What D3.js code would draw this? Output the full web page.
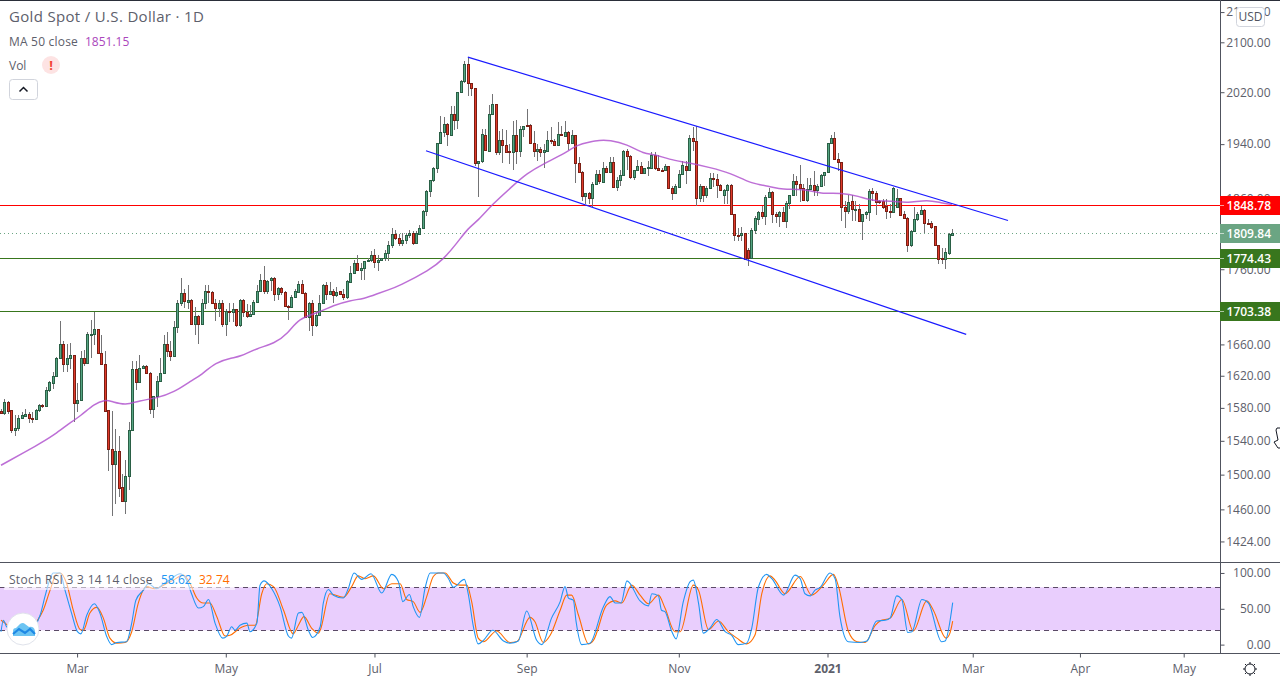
<!DOCTYPE html>
<html>
<head>
<meta charset="utf-8">
<script src="https://cdn.jsdelivr.net/npm/d3@7"></script>
<style>
  html, body { margin: 0; padding: 0; background: #fff; overflow: hidden; }
  svg { display: block; font-family: "Open Sans", sans-serif; }
</style>
</head>
<body>
<div id="chart"></div>
<script>
// daily candles
var opens = [1576,1574,1587,1577,1553,1556,1567,1570,1573,1568,1566,1577,1584,1582,1602,1611,1620,1643,1660,1635,1642,1646,1586,1590,1642,1636,1672,1674,1680,1649,1635,1577,1530,1513,1528,1486,1470,1498,1553,1629,1612,1630,1632,1623,1578,1595,1613,1623,1661,1651,1645,1683,
  1715,1728,1716,1719,1687,1697,1687,1714,1731,1729,1715,1708,1714,1687,1704,1702,1707,1685,1719,1702,1697,1700,1716,1731,1746,1731,1745,1748,1726,1734,1729,1711,1709,1723,1729,1740,1728,1696,1715,1685,1698,1715,1739,1727,1731,1725,1730,1726,1722,1743,1755,1768,1759,1762,1771,1773,1780,1770,1773,1775,1783,1794,1809,1803,
  1797,1801,1808,1810,1796,1809,1818,1841,1870,1886,1905,1941,1958,1971,1954,1986,1977,2020,2037,2065,2034,2026,1911,1914,1954,1930,1986,2002,1928,1946,1939,1929,1928,1954,1929,1963,1969,1969,1941,1929,1933,1928,1930,1946,1945,1939,1955,1953,1958,1942,1954,1911,1899,1863,1868,1861,1881,1896,
  1883,1905,1899,1913,1877,1887,1894,1930,1922,1891,1901,1908,1897,1904,1905,1924,1904,1902,1901,1907,1875,1867,1877,1896,1908,1902,1950,1944,1861,1878,1864,1875,1890,1888,1879,1865,1872,1879,1837,1808,1807,1811,1786,1776,1815,1830,1840,1835,1862,
  1869,1838,1835,1840,1827,1853,1864,1885,1880,1875,1858,1873,1879,1872,1878,1894,1898,1941,1949,1917,1913,1848,1842,1856,1844,1845,1828,1837,1840,1871,1868,1856,1856,1849,1842,1840,1847,1860,1837,1832,1793,1813,1830,1838,1843,1825,1825,1820,1794,1775,1774,1783,1808];
var highs = [1579,1591,1588,1577,1571,1571,1575,1579,1575,1575,1579,1585,1585,1606,1614,1625,1644,1690,1665,1661,1662,1646,1611,1651,1653,1676,1692,1702,1680,1672,1651,1577,1576,1554,1546,1501,1517,1563,1639,1639,1646,1633,1633,1625,1595,1620,1642,1672,1676,1665,1691,1718,
  1748,1733,1739,1720,1709,1698,1720,1738,1738,1731,1720,1718,1718,1706,1715,1714,1707,1720,1720,1713,1712,1718,1738,1753,1764,1746,1749,1749,1736,1736,1730,1712,1725,1733,1744,1745,1729,1716,1718,1704,1725,1740,1742,1743,1733,1736,1731,1733,1745,1764,1773,1779,1769,1772,1775,1785,1788,1780,1776,1787,1799,1818,1814,1809,
  1811,1811,1814,1813,1813,1821,1843,1872,1887,1906,1942,1983,1981,1972,1999,1999,2021,2040,2070,2076,2035,2027,1915,1963,1963,2000,2017,2002,1960,1963,1961,1940,1976,1977,1968,1968,1994,1970,1960,1940,1935,1940,1960,1966,1948,1974,1968,1975,1960,1961,1954,1920,1900,1868,1869,1883,1901,1902,
  1913,1908,1920,1920,1891,1901,1931,1933,1923,1902,1916,1913,1905,1915,1928,1928,1923,1905,1910,1907,1878,1880,1902,1915,1915,1954,1966,1968,1880,1878,1878,1897,1897,1895,1880,1873,1880,1880,1838,1818,1819,1811,1790,1817,1834,1842,1849,1864,1875,
  1870,1840,1841,1847,1856,1865,1895,1892,1909,1880,1890,1890,1900,1880,1895,1899,1942,1954,1958,1926,1913,1856,1864,1864,1856,1851,1837,1842,1873,1875,1870,1857,1859,1859,1851,1876,1873,1860,1842,1833,1815,1848,1840,1849,1844,1830,1828,1820,1794,1789,1789,1811,1816];
var lows = [1572,1571,1573,1549,1546,1552,1566,1569,1562,1561,1565,1575,1580,1581,1600,1604,1618,1643,1625,1625,1629,1563,1575,1589,1632,1635,1642,1659,1648,1633,1576,1504,1452,1466,1474,1470,1455,1482,1552,1602,1611,1629,1622,1573,1568,1581,1612,1622,1644,1639,1645,1675,
  1710,1708,1707,1686,1672,1660,1686,1707,1714,1714,1691,1696,1683,1671,1689,1689,1683,1683,1696,1695,1696,1698,1715,1729,1726,1726,1731,1717,1718,1725,1709,1692,1708,1722,1728,1728,1695,1678,1671,1683,1698,1715,1718,1727,1715,1723,1725,1718,1720,1742,1753,1758,1745,1745,1770,1770,1762,1757,1772,1772,1772,1790,1801,1792,
  1792,1795,1803,1794,1795,1807,1817,1834,1862,1883,1897,1940,1951,1937,1952,1961,1963,2019,2035,2014,2014,1907,1862,1912,1930,1930,1985,1923,1923,1911,1927,1910,1902,1910,1921,1951,1966,1940,1921,1915,1920,1905,1930,1940,1939,1939,1952,1952,1931,1942,1882,1899,1856,1851,1851,1848,1880,1880,
  1882,1897,1897,1876,1871,1878,1893,1902,1888,1887,1900,1895,1896,1893,1904,1902,1901,1900,1900,1874,1857,1866,1877,1895,1880,1901,1930,1849,1855,1855,1860,1874,1877,1860,1871,1852,1852,1836,1799,1799,1799,1774,1764,1775,1809,1821,1830,1821,1860,
  1824,1824,1819,1826,1818,1844,1863,1863,1854,1857,1854,1872,1863,1863,1877,1878,1897,1940,1916,1900,1827,1817,1837,1828,1828,1827,1801,1830,1828,1856,1836,1851,1844,1830,1831,1840,1847,1835,1831,1784,1791,1812,1828,1836,1810,1823,1816,1792,1767,1767,1760,1779,1806];
var closes = [1574,1587,1576,1553,1556,1567,1571,1573,1568,1567,1577,1583,1582,1602,1612,1620,1643,1660,1635,1642,1646,1586,1590,1642,1636,1673,1674,1680,1649,1635,1576,1530,1513,1528,1485,1470,1498,1553,1629,1612,1630,1632,1623,1578,1595,1613,1623,1661,1651,1645,1683,1715,
  1728,1717,1719,1687,1697,1687,1714,1731,1729,1715,1708,1714,1687,1704,1702,1707,1685,1719,1702,1697,1700,1716,1731,1746,1731,1744,1748,1726,1734,1729,1710,1709,1723,1730,1740,1728,1696,1715,1685,1698,1715,1739,1727,1731,1725,1729,1726,1723,1744,1755,1768,1759,1762,1771,1773,1780,1770,1773,1775,1783,1794,1809,1803,1797,
  1801,1808,1810,1796,1811,1818,1841,1871,1886,1905,1941,1958,1971,1955,1986,1977,2020,2037,2065,2034,2026,1911,1914,1955,1931,1986,2002,1928,1946,1939,1928,1928,1954,1929,1963,1968,1967,1941,1929,1933,1928,1931,1946,1945,1939,1955,1954,1958,1942,1954,1911,1899,1863,1868,1861,1881,1896,1885,
  1905,1899,1913,1877,1887,1894,1930,1922,1891,1901,1908,1897,1904,1906,1924,1904,1902,1901,1907,1875,1867,1878,1896,1909,1902,1950,1944,1861,1878,1864,1875,1890,1888,1879,1872,1872,1879,1837,1808,1807,1811,1774,1776,1815,1831,1840,1835,1862,1869,
  1838,1835,1840,1827,1853,1864,1885,1880,1875,1858,1873,1879,1872,1878,1894,1898,1941,1949,1917,1913,1848,1842,1854,1844,1845,1828,1837,1840,1871,1868,1855,1855,1848,1842,1840,1875,1860,1836,1832,1793,1813,1830,1838,1843,1825,1824,1819,1793,1774,1774,1784,1809,1809.84];

// MA 50 close, readings at the listed bars
var maBars = [0,11,15,19,23,27,30,32,36,40,45,50,55,58,62,67,69,74,79,83,86,92,96,101,105,109,112,115,124,128,132,135,138,142,148,152,157,162,167,170,173,176,181,186,189,193,199,205,211,217,222,226,232,237,243,248,252,258,262,268,272,275];
var maValues = [1511,1536,1546,1559,1570,1585,1590,1588,1583,1589,1592,1599,1614,1621,1637,1643,1644,1655,1661,1674,1694,1702,1711,1718,1720,1727,1732,1737,1759,1774,1797,1817,1828,1851,1878,1896,1911,1923,1940,1943,1946,1946,1940,1925,1925,1917,1912,1905,1897,1881,1878,1872,1874,1866,1868,1863,1856,1856,1853,1858,1853,1851.15];

// Stoch RSI
var kBars = [0,0.7,1.6,6.5,11.3,12.7,14.2,15.1,17.1,18.5,20.4,22.1,23.1,24.8,27,28.6,30.6,32,33.5,36.3,37.8,39,41.2,42.6,45,47,48.9,51.8,53.7,55.1,57.1,58.5,60,61.9,64.1,65.3,66.7,67.7,69.1,71.1,72,74,74.9,76.1,78.3,80.7,83.1,84,86,87,88.9,90.1,92.3,93.2,94.7,96.1,99,100.4,102.1,104.3,107,110.1,113,114.9,116.2,118.1,119.2,121,122.6,124.1,127.9,129.4,130.8,134,135.1,136.6,138,139.5,142.2,145.3,147.2,149.6,152,154.9,156.4,159.2,161.7,163.1,164.1,165.5,166.3,167.9,170.3,174.2,176.1,177.6,179.3,181,184.8,187.2,188.2,190.1,191,192,194,195.2,197.3,199.3,200.2,201.7,203.1,205,207,209.4,211.3,213.2,215.6,217.1,219,221.4,222.9,226.3,229.6,231.1,232.5,234,235.4,236.9,239.7,241.2,242.6,245,248.4,250.4,253.2,255.7,257.1,259,260.5,262.2,263.4,266.3,268.2,272,273,275.2];
var kValues = [18,34,25,10,41,67,92,100,100,76,44,18,15,41,57,44,11,0,3,4,30,62,76,85,78,85,91,99,90,71,51,53,63,30,9,12,25,20,27,30,18,30,83,89,78,53,12,9,44,45,20,10,25,58,77,69,65,78,100,91,99,72,98,88,60,70,53,38,78,100,100,92,80,91,71,25,1,6,20,5,2,5,47,6,0,37,60,81,65,62,32,0,2,53,67,58,58,89,61,54,71,68,48,46,18,8,60,88,90,58,16,23,35,18,13,0,2,23,80,98,92,69,97,92,71,68,76,80,100,92,39,4,3,5,33,34,37,68,63,17,18,63,58,4,5,58.62];
var dBars = [0,1.2,5.5,10.3,12.2,14.2,16.1,17.1,19,20.9,22.9,23.8,25.7,27.7,29.6,31.5,33.5,35.9,37.8,39.7,42.1,44.5,47,49.8,52.7,54.7,56.6,58.5,60.4,62.4,64.8,66.2,69.1,71.5,73.5,75.4,76.8,78.8,81.7,84.5,86,87.6,89.8,91.8,92.3,95.1,99,101.4,103.3,105.3,107.7,110.6,113,115.4,117.3,119.2,121.2,123.1,125,126.5,128.4,130.8,132.7,134.7,136.1,138,139.5,143.3,147.2,149.1,153,154.4,156.8,158.8,161.7,163.6,165,167,169.9,171.3,175.1,177.6,179.5,182.4,184.8,187.2,190.1,192,194.9,196.4,200.2,201.7,204.6,207.5,210.3,212.8,215.6,218,220,222.4,223.8,226.7,231.1,234.4,237.8,240.7,242.2,245,247.5,249.9,252.8,254.2,257.1,260.5,263.8,267.7,269.6,273.3,274.4,275.2];
var dValues = [34,30,13,32,48,76,99,100,85,48,21,20,44,52,37,9,2,3,18,58,81,78,83,90,97,85,65,58,58,39,12,13,23,27,27,71,85,81,48,15,27,39,23,16,20,71,66,81,96,92,96,78,85,85,63,60,45,67,95,100,100,86,83,83,60,9,4,19,3,4,38,32,3,13,48,69,69,41,1,6,55,61,58,83,69,57,69,51,18,18,83,76,21,33,18,9,1,13,71,96,90,71,95,69,83,98,81,19,4,3,27,33,37,63,19,61,48,9,16,32.74];

// drawn channel: start and end of each blue line
var channelBars = [[135, 291.2], [122.9, 279.1]];
var channelPrices = [[2076, 1828], [1930, 1673]];

var priceTicks = [2150,2100,2020,1940,1860,1760,1700,1660,1620,1580,1540,1500,1460,1424];
var stochTicks = [100,50,0];
var timeBars = [22,65,108,152,196,239,281,312,342];
var timeLabels = ["Mar","May","Jul","Sep","Nov","2021","Mar","Apr","May"];

var levelPrices = [1848.78,1774.43,1703.38];
var levelColors = ["#ff0000","#38761d","#38761d"];
var lastPrice = 1809.84;

var width = 1280, height = 680;
var axisX = 1221, paneBottom = 562, stochBottom = 653;
var textCol = "#5d606b", axisCol = "#50535e";

var svg = d3.select("#chart").append("svg").attr("width", width).attr("height", height);
svg.append("rect").attr("width", width).attr("height", height).attr("fill", "#fff");

var x = d3.scaleLinear().domain([0, 275]).range([1, 952]);
var y = d3.scaleLog().domain([1401.4, 2168.6]).range([paneBottom, 1]);
var ys = d3.scaleLinear().domain([-11.7, 113.9]).range([stochBottom, 563]);

// levels sit on whole pixels, same as in the picture
function levelY(p) { return Math.round(y(p) + 0.3) - 0.5; }

var main = svg.append("g");

main.append("line").attr("x1", 0).attr("x2", axisX)
  .attr("y1", Math.round(y(lastPrice)) + 0.5).attr("y2", Math.round(y(lastPrice)) + 0.5)
  .attr("stroke", "#6ba583").attr("stroke-dasharray", "1 3");
levelPrices.forEach(function (p, i) {
  main.append("line").attr("x1", 0).attr("x2", axisX).attr("y1", levelY(p)).attr("y2", levelY(p))
    .attr("stroke", levelColors[i]).attr("stroke-width", 1);
});

// candles
var candles = main.append("g").selectAll("g").data(closes).enter().append("g");
candles.append("line")
  .attr("x1", function (d, i) { return Math.round(x(i)) + 0.5; })
  .attr("x2", function (d, i) { return Math.round(x(i)) + 0.5; })
  .attr("y1", function (d, i) { return Math.round(y(highs[i])); })
  .attr("y2", function (d, i) { return Math.round(y(lows[i])); })
  .attr("stroke", "#737375");
candles.append("rect")
  .attr("x", function (d, i) { return Math.round(x(i)) - 0.5; })
  .attr("width", 2)
  .attr("y", function (d, i) { return Math.round(y(Math.max(opens[i], d))) + 0.5; })
  .attr("height", function (d, i) { return Math.max(1, Math.round(y(Math.min(opens[i], d))) - Math.round(y(Math.max(opens[i], d)))); })
  .attr("fill", function (d, i) { return d >= opens[i] ? "#55a583" : "#e03a2a"; })
  .attr("stroke", function (d, i) { return d >= opens[i] ? "#2a5f45" : "#7a1f14"; });

// moving average
var maLine = d3.line()
  .x(function (d, i) { return x(maBars[i]); })
  .y(function (d) { return y(d); })
  .curve(d3.curveBasis);
main.append("path").attr("d", maLine(maValues))
  .attr("fill", "none").attr("stroke", "#ac4bcc").attr("stroke-width", 1.5).attr("opacity", 0.8);

// channel
channelBars.forEach(function (b, i) {
  main.append("line")
    .attr("x1", x(b[0])).attr("x2", x(b[1]))
    .attr("y1", y(channelPrices[i][0])).attr("y2", y(channelPrices[i][1]))
    .attr("stroke", "#1a1aff").attr("stroke-width", 1.2);
});

// stoch pane
var stoch = svg.append("g");
stoch.append("rect").attr("x", 0).attr("width", axisX)
  .attr("y", ys(80)).attr("height", ys(20) - ys(80)).attr("fill", "#e9cefd");
[80, 20].forEach(function (v) {
  stoch.append("line").attr("x1", 0).attr("x2", axisX)
    .attr("y1", Math.round(ys(v)) + 0.5).attr("y2", Math.round(ys(v)) + 0.5)
    .attr("stroke", "#5b4a66").attr("stroke-dasharray", "5 4");
});
var kLine = d3.line().x(function (d, i) { return x(kBars[i]); }).y(function (d) { return ys(d); }).curve(d3.curveMonotoneX);
var dLine = d3.line().x(function (d, i) { return x(dBars[i]); }).y(function (d) { return ys(d); }).curve(d3.curveMonotoneX);
stoch.append("path").attr("d", dLine(dValues)).attr("fill", "none").attr("stroke", "#ff6d00").attr("stroke-width", 1.1);
stoch.append("path").attr("d", kLine(kValues)).attr("fill", "none").attr("stroke", "#2196f3").attr("stroke-width", 1.1);

// frame lines
function frame(x1, y1, x2, y2, col, w) {
  svg.append("line").attr("x1", x1).attr("y1", y1).attr("x2", x2).attr("y2", y2)
    .attr("stroke", col).attr("stroke-width", w || 1);
}
frame(0, 0.5, width, 0.5, "#2a2e39");
frame(0, paneBottom + 0.5, width, paneBottom + 0.5, axisCol);
frame(0, stochBottom + 0.5, width, stochBottom + 0.5, axisCol);
frame(axisX - 0.5, 0, axisX - 0.5, stochBottom + 1, axisCol);

// axes
function styleAxis(g) {
  g.select(".domain").remove();
  g.selectAll("line").attr("stroke", axisCol);
  g.selectAll("text").attr("fill", textCol).attr("font-size", 12).attr("font-family", '"Open Sans", sans-serif');
}
var priceAxis = svg.append("g").attr("transform", "translate(" + (axisX - 0.5) + ",0)")
  .call(d3.axisRight(y).tickValues(priceTicks).tickFormat(d3.format(".2f")).tickSize(4))
  .call(styleAxis);
priceAxis.selectAll("text").attr("text-anchor", "end").attr("x", 50);

var stochAxis = svg.append("g").attr("transform", "translate(" + (axisX - 0.5) + ",0)")
  .call(d3.axisRight(ys).tickValues(stochTicks).tickFormat(d3.format(".2f")).tickSize(4))
  .call(styleAxis);
stochAxis.selectAll("text").attr("text-anchor", "end").attr("x", 50);

var timeAxis = svg.append("g").attr("transform", "translate(0," + (stochBottom + 0.5) + ")")
  .call(d3.axisBottom(x).tickValues(timeBars).tickFormat(function (d, i) { return timeLabels[i]; }).tickSize(4).tickPadding(7))
  .call(styleAxis);
timeAxis.selectAll("text").filter(function (d, i) { return timeLabels[i] === "2021"; }).attr("font-weight", 700);

// price labels on the axis
function priceLabel(p, col, yy) {
  svg.append("rect").attr("x", axisX - 1).attr("y", yy - 9.5).attr("width", width - axisX + 1).attr("height", 19).attr("fill", col);
  svg.append("line").attr("x1", axisX - 1).attr("x2", axisX + 3).attr("y1", yy).attr("y2", yy).attr("stroke", "#fff").attr("opacity", 0.6);
  svg.append("text").attr("x", 1271).attr("y", yy + 4.5).attr("text-anchor", "end")
    .attr("fill", "#fff").attr("font-size", 12).attr("font-weight", 600).text(d3.format(".2f")(p));
}
priceLabel(lastPrice, "#6ba583", Math.round(y(lastPrice)) + 0.5);
levelPrices.forEach(function (p, i) { priceLabel(p, levelColors[i], levelY(p)); });

// USD badge
svg.append("rect").attr("x", 1236.5).attr("y", 7.5).attr("width", 28).attr("height", 19).attr("rx", 3)
  .attr("fill", "#fff").attr("stroke", "#d1d4dc");
svg.append("text").attr("x", 1250.5).attr("y", 21).attr("text-anchor", "middle").attr("font-size", 12).attr("fill", "#50535e").text("USD");

// legend
function label(tx, ty, txt, size, col, spacing) {
  return svg.append("text").attr("x", tx).attr("y", ty).attr("font-size", size).attr("fill", col)
    .attr("letter-spacing", spacing || 0).text(txt);
}
label(9, 22, "Gold Spot / U.S. Dollar · 1D", 15, textCol, 0.33);
label(9, 46, "MA 50 close", 12, textCol, 0.2);
label(85, 46, "1851.15", 12, "#ab47bc");
label(9, 70, "Vol", 12, textCol);
svg.append("circle").attr("cx", 51).attr("cy", 65).attr("r", 9).attr("fill", "#fde3e3");
svg.append("text").attr("x", 51).attr("y", 70).attr("text-anchor", "middle").attr("font-size", 13).attr("font-weight", 700).attr("fill", "#f44336").text("!");
svg.append("rect").attr("x", 9.5).attr("y", 79.5).attr("width", 28).attr("height", 20).attr("rx", 3).attr("fill", "#fff").attr("stroke", "#d1d4dc");
svg.append("path").attr("d", "M19.5 91.5 L23.5 87.5 L27.5 91.5").attr("fill", "none").attr("stroke", "#131722").attr("stroke-width", 1.5);

svg.append("rect").attr("x", 4).attr("y", 570).attr("width", 231).attr("height", 20).attr("fill", "#fff").attr("opacity", 0.55);
label(9, 584, "Stoch RSI 3 3 14 14 close", 12, textCol, 0.28);
label(161, 584, "58.62", 12, "#2196f3");
label(199, 584, "32.74", 12, "#ff6d00");

// logo
svg.append("circle").attr("cx", 23).attr("cy", 629).attr("r", 16).attr("fill", "#fff").attr("stroke", "#e0e3eb");
svg.append("path").attr("d", "M13 636 L13 631 Q13 628 16 628 L20 624 Q23 622 25 624 L29 627 Q34 626 35 631 L35 636 Z").attr("fill", "#6cc4f2");
svg.append("path").attr("d", "M13 634 L19 629 L25 633 L30 629 L35 634").attr("fill", "none").attr("stroke", "#1e88e5").attr("stroke-width", 2.2);

// settings gear
svg.append("circle").attr("cx", 1250).attr("cy", 669).attr("r", 5).attr("fill", "none").attr("stroke", "#131722");
d3.range(8).forEach(function (i) {
  var a = i * Math.PI / 4;
  svg.append("line").attr("x1", 1250 + 5 * Math.cos(a)).attr("y1", 669 + 5 * Math.sin(a))
    .attr("x2", 1250 + 7 * Math.cos(a)).attr("y2", 669 + 7 * Math.sin(a)).attr("stroke", "#131722");
});

// mouse cursor at the edge
svg.append("path").attr("d", "M1280 428 L1277 428 L1276 430 L1278 440 L1274 442 L1278 448 L1280 448").attr("fill", "#fff").attr("stroke", "#131722");
</script>
</body>
</html>
